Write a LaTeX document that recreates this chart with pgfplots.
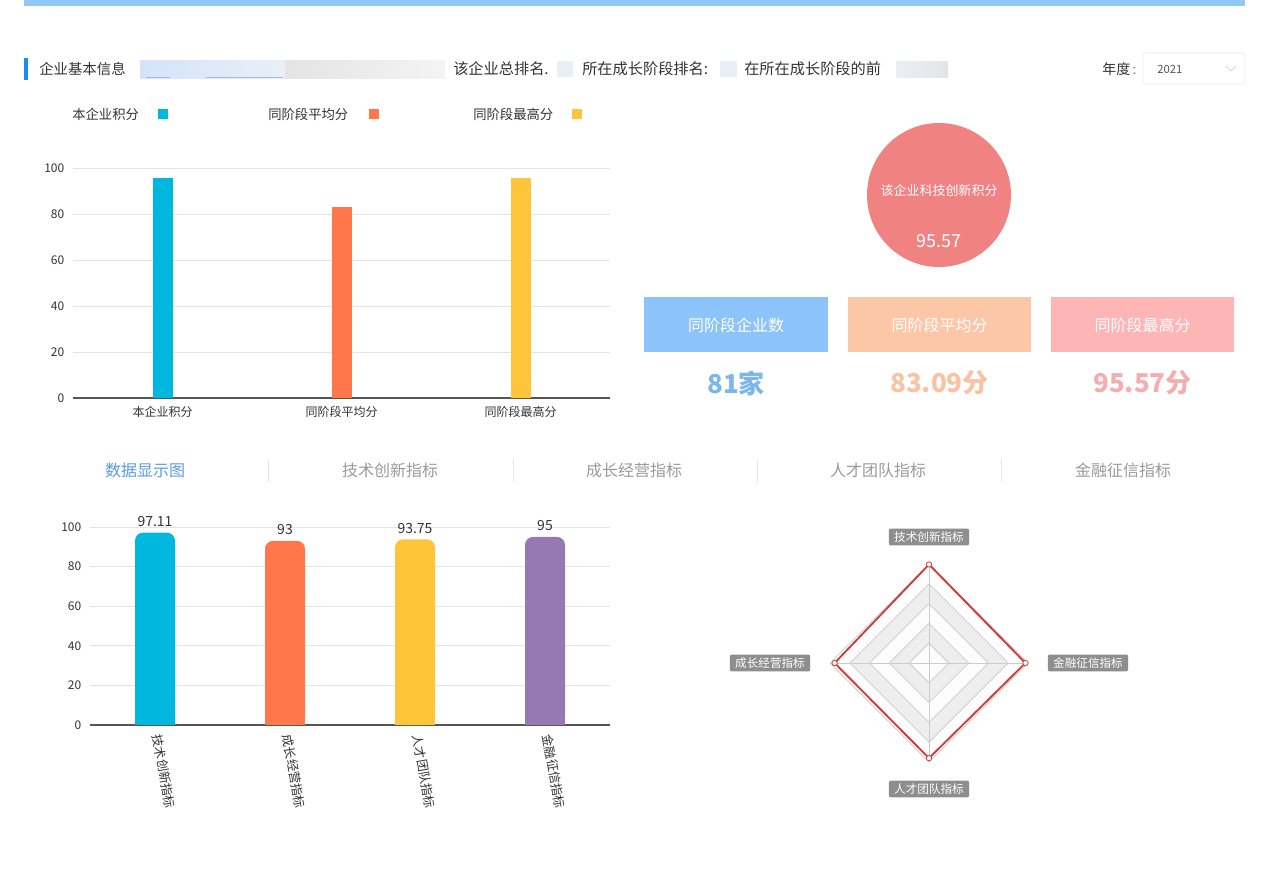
\documentclass[border=0pt]{standalone}
\usepackage{fontspec}
\setmainfont{Noto Sans CJK SC}
\usepackage{pgfplots}
\pgfplotsset{compat=1.18}
\usepgfplotslibrary{polar}
\pgfplotsset{/pgf/number format/assume math mode=true}
\definecolor{cCyan}{HTML}{00B8DE}
\definecolor{cOrange}{HTML}{FF774A}
\definecolor{cYellow}{HTML}{FFC53A}
\definecolor{cPurple}{HTML}{9679B3}
\definecolor{cCircle}{HTML}{F08282}
\definecolor{boxBlue}{HTML}{8CC3FA}
\definecolor{boxPeach}{HTML}{FBC7A7}
\definecolor{boxPink}{HTML}{FDB5B6}
\definecolor{numBlue}{HTML}{7DB5EE}
\definecolor{numPeach}{HTML}{F8C3A2}
\definecolor{numPink}{HTML}{F5AEB0}
\definecolor{topBar}{HTML}{92C7F7}
\definecolor{markc}{HTML}{1C8CF0}
\definecolor{tabBlue}{HTML}{5A9BE0}
\definecolor{tabGray}{HTML}{9A9A9A}
\definecolor{txt}{HTML}{333333}
\definecolor{axc}{HTML}{555555}
\definecolor{gridc}{HTML}{E3E3E3}
\definecolor{ringc}{HTML}{CCCCCC}
\definecolor{ringFill}{HTML}{EEEEEE}
\definecolor{ringLight}{HTML}{FDFDFD}
\definecolor{radarRed}{HTML}{C7403C}
\definecolor{lblBox}{HTML}{8E8E8E}
\definecolor{blurA}{HTML}{D3E4FA}
\definecolor{blurB}{HTML}{E9EFF7}
\definecolor{blurC}{HTML}{E4E4E4}
\definecolor{blurD}{HTML}{F4F4F4}
\definecolor{sepc}{HTML}{E6E6E6}
\newcommand{\fs}[1]{\fontsize{#1}{#1}\selectfont}
\begin{document}
\begin{tikzpicture}
\path[use as bounding box, fill=white] (0pt,0pt) rectangle (951.75pt,-653.25pt);
\begin{scope}[x=0.75pt,y=-0.75pt]
% top bar
\fill[topBar] (24,0) rectangle (1245,6);
% header row
\fill[markc] (24,58) rectangle (28,80);
\node[anchor=west, inner sep=0, text=txt] at (39,69) {\fs{10.8pt}企业基本信息};
\shade[left color=blurA, right color=blurB] (140,60) rectangle (285,78);
\shade[left color=blurC, right color=blurD] (285,60) rectangle (445,78);
\draw[blurA!80!blue, line width=1pt] (146,77.5) -- (170,77.5) (206,77.5) -- (283,77.5);
\node[anchor=west, inner sep=0, text=txt] at (453,69) {\fs{11.4pt}该企业总排名.};
\fill[blurB] (557,61) rectangle (573,77);
\node[anchor=west, inner sep=0, text=txt] at (582,69) {\fs{11.4pt}所在成长阶段排名:};
\fill[blurB] (720,61) rectangle (737,77);
\node[anchor=west, inner sep=0, text=txt] at (744,69) {\fs{11.4pt}在所在成长阶段的前};
\shade[left color=blurB, right color=blurC] (896,61) rectangle (948,77);
\node[anchor=west, inner sep=0, text=txt] at (1102,69) {\fs{10.5pt}年度\,{\color{gray}:}};
\draw[sepc, rounded corners=2] (1143,53) rectangle (1245,84);
\node[anchor=west, inner sep=0, text=axc] at (1157,69) {\fs{8.5pt}2021};
\draw[ringc] (1226,66) -- (1231,71) -- (1236,66);
% legend of top chart
\node[anchor=west, inner sep=0, text=txt] at (72,114) {\fs{10pt}本企业积分};
\fill[cCyan] (158,109) rectangle (168,119);
\node[anchor=west, inner sep=0, text=txt] at (268,114) {\fs{10pt}同阶段平均分};
\fill[cOrange] (369,109) rectangle (379,119);
\node[anchor=west, inner sep=0, text=txt] at (473,114) {\fs{10pt}同阶段最高分};
\fill[cYellow] (572,109) rectangle (582,119);
% circle
\fill[cCircle] (939,195) circle (72);
\node[text=white] at (939,191) {\fs{9.75pt}该企业科技创新积分};
\node[text=white] at (939,241) {\fs{13.5pt}95.57};
% boxes
\fill[boxBlue] (644,297) rectangle (828,352);
\fill[boxPeach] (848,297) rectangle (1031,352);
\fill[boxPink] (1051,297) rectangle (1234,352);
\node[text=white] at (736,325) {\fs{12pt}同阶段企业数};
\node[text=white] at (939.5,325) {\fs{12pt}同阶段平均分};
\node[text=white] at (1142.5,325) {\fs{12pt}同阶段最高分};
\node[text=numBlue] at (736,383) {\fs{19.5pt}\bfseries 81家};
\node[text=numPeach] at (939.5,383) {\fs{19.5pt}\bfseries 83.09分};
\node[text=numPink] at (1142.5,383) {\fs{19.5pt}\bfseries 95.57分};
% tabs
\node[text=tabBlue] at (145,470) {\fs{12pt}数据显示图};
\node[text=tabGray] at (390,470) {\fs{12pt}技术创新指标};
\node[text=tabGray] at (634,470) {\fs{12pt}成长经营指标};
\node[text=tabGray] at (878,470) {\fs{12pt}人才团队指标};
\node[text=tabGray] at (1123,470) {\fs{12pt}金融征信指标};
\foreach \xx in {268,513,757,1001} \draw[sepc] (\xx,459) -- (\xx,482);
\end{scope}

% ---------- top bar chart
\begin{axis}[
  at={(54.75pt,-298.5pt)}, anchor=south west,
  scale only axis, width=402.75pt, height=172.5pt,
  xmin=-0.5, xmax=2.5, ymin=0, ymax=100,
  enlargelimits=false,
  axis x line*=bottom, axis y line*=left,
  y axis line style={draw=none},
  x axis line style={draw=axc, line width=0.9pt},
  major tick length=0pt,
  ytick={0,20,40,60,80,100},
  xtick={0,1,2},
  xticklabels={本企业积分,同阶段平均分,同阶段最高分},
  ymajorgrids, grid style={gridc, line width=0.75pt},
  yticklabel style={font=\fs{9pt}, text=txt, xshift=-3pt},
  xticklabel style={font=\fs{9pt}, text=txt, yshift=-2.5pt},
  clip=false,
]
\addplot[ybar, bar width=15pt, bar shift=0pt, fill=cCyan, draw=none] coordinates {(0,95.57)};
\addplot[ybar, bar width=15pt, bar shift=0pt, fill=cOrange, draw=none] coordinates {(1,83.09)};
\addplot[ybar, bar width=15pt, bar shift=0pt, fill=cYellow, draw=none] coordinates {(2,95.57)};
\end{axis}

% ---------- bottom bar chart
\begin{axis}[
  at={(67.5pt,-543.75pt)}, anchor=south west,
  scale only axis, width=390pt, height=148.5pt,
  xmin=-0.5, xmax=3.5, ymin=0, ymax=100,
  enlargelimits=false,
  axis x line*=bottom, axis y line*=left,
  y axis line style={draw=none},
  x axis line style={draw=axc, line width=0.9pt},
  major tick length=0pt,
  ytick={0,20,40,60,80,100},
  xtick={0,1,2,3},
  xticklabels={技术创新指标,成长经营指标,人才团队指标,金融征信指标},
  ymajorgrids, grid style={gridc, line width=0.75pt},
  yticklabel style={font=\fs{9pt}, text=txt, xshift=-3pt},
  xticklabel style={font=\fs{9.3pt}, text=txt, rotate=-80, anchor=west, xshift=4pt, yshift=0.5pt},
  every node near coord/.append style={font=\fs{10.5pt}, text=txt, yshift=1pt},
  clip=false,
]
\addplot[ybar, bar width=30pt, bar shift=0pt, fill=cCyan, draw=none, rounded corners=6pt, nodes near coords] coordinates {(0,97.11)};
\addplot[ybar, bar width=30pt, bar shift=0pt, fill=cCyan, draw=none, y filter/.expression={0.5*y}] coordinates {(0,97.11)};
\addplot[ybar, bar width=30pt, bar shift=0pt, fill=cOrange, draw=none, rounded corners=6pt, nodes near coords] coordinates {(1,93)};
\addplot[ybar, bar width=30pt, bar shift=0pt, fill=cOrange, draw=none, y filter/.expression={0.5*y}] coordinates {(1,93)};
\addplot[ybar, bar width=30pt, bar shift=0pt, fill=cYellow, draw=none, rounded corners=6pt, nodes near coords] coordinates {(2,93.75)};
\addplot[ybar, bar width=30pt, bar shift=0pt, fill=cYellow, draw=none, y filter/.expression={0.5*y}] coordinates {(2,93.75)};
\addplot[ybar, bar width=30pt, bar shift=0pt, fill=cPurple, draw=none, rounded corners=6pt, nodes near coords] coordinates {(3,95)};
\addplot[ybar, bar width=30pt, bar shift=0pt, fill=cPurple, draw=none, y filter/.expression={0.5*y}] coordinates {(3,95)};
\end{axis}

% ---------- radar
\begin{polaraxis}[
  at={(696.75pt,-497.25pt)}, anchor=center,
  scale only axis, width=152.25pt, height=152.25pt,
  xmin=0, xmax=360, ymin=0, ymax=100,
  hide axis, clip=false,
]
\addplot[draw=ringc, fill=ringLight, line width=0.6pt] coordinates {(90,97.5)(0,97.5)(270,97.5)(180,97.5)} -- cycle;
\addplot[draw=ringc, fill=ringFill, line width=0.6pt] coordinates {(90,78)(0,78)(270,78)(180,78)} -- cycle;
\addplot[draw=ringc, fill=ringLight, line width=0.6pt] coordinates {(90,58.5)(0,58.5)(270,58.5)(180,58.5)} -- cycle;
\addplot[draw=ringc, fill=ringFill, line width=0.6pt] coordinates {(90,39)(0,39)(270,39)(180,39)} -- cycle;
\addplot[draw=ringc, fill=ringLight, line width=0.6pt] coordinates {(90,19.5)(0,19.5)(270,19.5)(180,19.5)} -- cycle;
\addplot[draw=ringc, line width=0.6pt] coordinates {(90,97.5)(270,97.5)};
\addplot[draw=ringc, line width=0.6pt] coordinates {(0,97.5)(180,97.5)};
\addplot[draw=radarRed, line width=1.4pt, mark=*, mark size=2pt, mark options={fill=white, draw=radarRed, line width=0.6pt}] coordinates {(90,97.11)(0,95)(270,93.75)(180,93)} -- cycle;
\end{polaraxis}

\begin{scope}[x=0.75pt,y=-0.75pt]
\tikzset{rl/.style={fill=lblBox, text=white, rounded corners=1.5pt, inner xsep=4pt, inner ysep=2.3pt, font=\fs{8.7pt}}}
\node[rl] at (929,537) {技术创新指标};
\node[rl] at (1088,663) {金融征信指标};
\node[rl] at (929,789) {人才团队指标};
\node[rl] at (770,663) {成长经营指标};
\end{scope}
\end{tikzpicture}
\end{document}
